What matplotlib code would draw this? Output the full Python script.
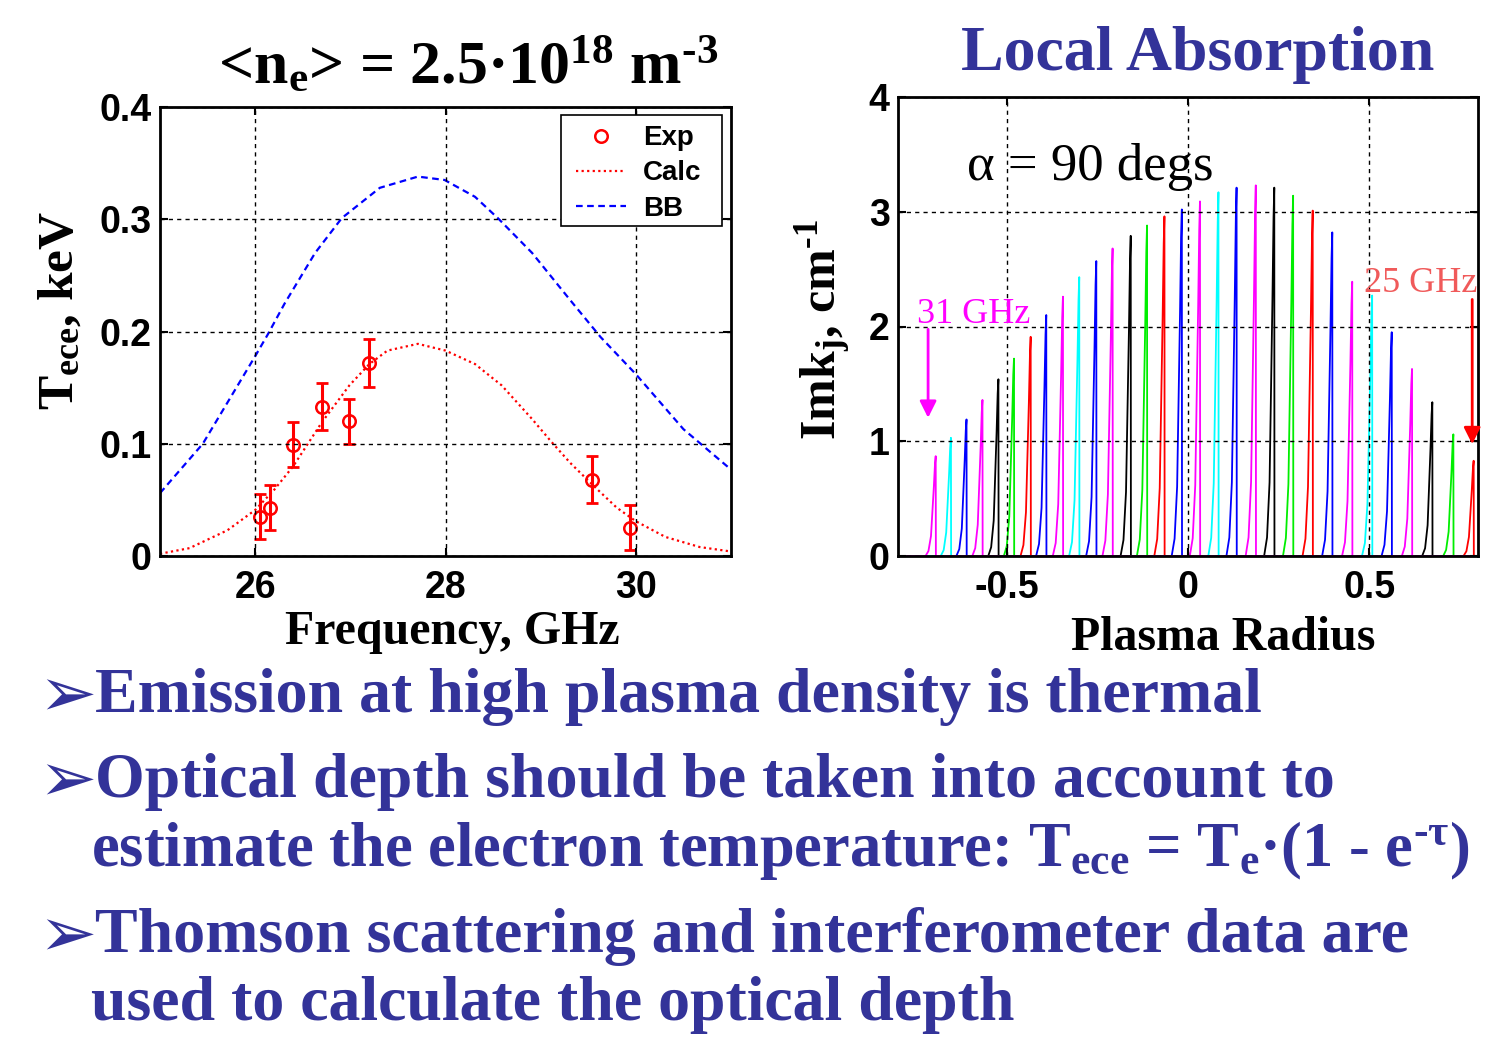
import numpy as np
import matplotlib.pyplot as plt
from matplotlib.patches import Rectangle

plt.rcParams['mathtext.fontset'] = 'custom'
plt.rcParams['mathtext.rm'] = 'Liberation Serif:bold'
plt.rcParams['mathtext.it'] = 'Liberation Serif:bold'
plt.rcParams['mathtext.bf'] = 'Liberation Serif:bold'

# ---- left panel: ECE temperature vs frequency ----
exp_freq = [26.05, 26.16, 26.40, 26.70, 26.99, 27.20, 29.54, 29.94]
exp_tece = [0.035, 0.043, 0.099, 0.133, 0.120, 0.172, 0.068, 0.025]
exp_err = [0.020, 0.020, 0.020, 0.021, 0.020, 0.021, 0.021, 0.020]

calc_freq = [25.0, 25.31, 25.71, 26.0, 26.2, 26.4, 26.7, 26.99, 27.2, 27.39, 27.71,
             28.0, 28.31, 28.59, 28.91, 29.11, 29.31, 29.55, 29.8, 30.0, 30.31, 30.67, 31.0]
calc_tece = [0.002, 0.007, 0.023, 0.041, 0.059, 0.080, 0.119, 0.152, 0.171, 0.183, 0.189,
             0.183, 0.171, 0.152, 0.122, 0.102, 0.083, 0.063, 0.043, 0.031, 0.017, 0.008, 0.004]

bb_freq = [25.0, 25.45, 26.0, 26.13, 26.31, 26.63, 26.91, 27.31, 27.71, 27.99, 28.31,
           28.55, 28.91, 29.31, 29.63, 30.0, 30.5, 31.0]
bb_tece = [0.056, 0.100, 0.178, 0.197, 0.225, 0.270, 0.301, 0.328, 0.338, 0.335, 0.320,
           0.301, 0.270, 0.228, 0.195, 0.162, 0.113, 0.077]

# ---- right panel: local absorption peaks ----
peak_pos = [-0.696, -0.654, -0.611, -0.567, -0.523, -0.480, -0.434, -0.391,
            -0.345, -0.300, -0.253, -0.208, -0.158, -0.113, -0.065, -0.017,
            0.033, 0.084, 0.134, 0.187, 0.238, 0.290, 0.344, 0.398,
            0.453, 0.508, 0.562, 0.618, 0.674, 0.732, 0.788]
peak_height = [0.87, 1.03, 1.19, 1.36, 1.54, 1.72, 1.91, 2.10,
               2.26, 2.43, 2.57, 2.68, 2.79, 2.88, 2.96, 3.02,
               3.09, 3.17, 3.21, 3.23, 3.21, 3.14, 3.01, 2.82,
               2.39, 2.27, 1.95, 1.63, 1.34, 1.06, 0.83]
peak_colors = ['magenta', 'cyan', 'blue', 'magenta', 'black', '#00ee00', 'red', 'blue'] * 4

# shape of one line (offset from peak, fraction of peak height)
shape_dx = [-0.028, -0.020, -0.013, -0.009, -0.005, -0.002, 0.0, 0.0005]
shape_frac = [0.0, 0.05, 0.2, 0.45, 0.7, 0.92, 1.0, 0.0]

text_blue = '#333399'
serif_b = dict(family='Liberation Serif', weight='bold')
tick_font = dict(family='Liberation Sans', weight='bold', size=27)
HY = '\u2010'  # hyphen used as the minus sign in the slide

fig = plt.figure(figsize=(14.93, 10.41), dpi=100)
W, H = 1493.0, 1041.0


def fx(px):
    return px / W


def fy(py):
    return 1 - py / H


def style_axes(ax):
    for s in ax.spines.values():
        s.set_linewidth(2)
    ax.tick_params(direction='in', length=6, width=1.5, top=True, right=True)
    ax.tick_params(axis='x', pad=10)
    ax.tick_params(axis='y', pad=6)
    for lab in ax.get_xticklabels() + ax.get_yticklabels():
        lab.set_fontfamily(tick_font['family'])
        lab.set_fontweight(tick_font['weight'])
        lab.set_fontsize(tick_font['size'])
    ax.grid(True, color='black', linestyle=(0, (3, 3)), linewidth=1)
    ax.set_axisbelow(False)


# left axes
ax1 = fig.add_axes([fx(160), fy(556), fx(731) - fx(160), fy(107) - fy(556)])
ax1.errorbar(exp_freq, exp_tece, yerr=exp_err, fmt='none', ecolor='red', elinewidth=2.2,
             capsize=4, capthick=2)
ax1.plot(exp_freq, exp_tece, 'o', mfc='none', mec='red', ms=9, mew=1.8, label='Exp')
ax1.plot(calc_freq, calc_tece, color='red', linestyle=(0, (1, 1.5)), lw=1.6, label='Calc')
ax1.plot(bb_freq, bb_tece, color='blue', linestyle=(0, (3, 2)), lw=1.6, label='BB')
ax1.set_xlim(25, 31)
ax1.set_ylim(0, 0.4)
ax1.set_xticks([26, 28, 30])
ax1.set_yticks([0, 0.1, 0.2, 0.3, 0.4])
ax1.set_yticklabels(['0', '0.1', '0.2', '0.3', '0.4'])
style_axes(ax1)

# legend box drawn by hand so the padding matches
ax1.add_patch(Rectangle((fx(561), fy(226)), fx(722) - fx(561), fy(115) - fy(226),
                        transform=fig.transFigure, facecolor='white', clip_on=False,
                        edgecolor='black', lw=1.2, zorder=5))
leg = ax1.legend(loc='upper left', bbox_to_anchor=(fx(568), fy(117)),
                 bbox_transform=fig.transFigure, borderaxespad=0,
                 prop=dict(family='Liberation Sans', weight='bold', size=20),
                 frameon=False, handlelength=1.8, borderpad=0.3,
                 labelspacing=0.33, handletextpad=0.6)
leg.set_zorder(6)
ax1.set_xlabel('Frequency, GHz', fontsize=34.5, **serif_b)
ax1.xaxis.set_label_coords((452 - 160) / 571.0, -0.12)
ax1.set_ylabel('T$_{\\rm ece}$, keV', fontsize=37, **serif_b)
ax1.yaxis.set_label_coords(-0.133, (556 - 310) / 449.0)

# right axes
ax2 = fig.add_axes([fx(898), fy(556), fx(1478) - fx(898), fy(97) - fy(556)])
for i in range(len(peak_pos) - 1, -1, -1):
    xs = [-0.8] + [peak_pos[i] + d for d in shape_dx] + [0.8]
    ys = [0.0] + [peak_height[i] * f for f in shape_frac] + [0.0]
    ax2.plot(xs, ys, color=peak_colors[i], lw=1.3)
ax2.set_xlim(-0.8, 0.8)
ax2.set_ylim(0, 4)
ax2.set_xticks([-0.5, 0, 0.5])
ax2.set_xticklabels(['-0.5', '0', '0.5'])
ax2.set_yticks([0, 1, 2, 3, 4])
style_axes(ax2)
ax2.set_xlabel('Plasma Radius', fontsize=34.5, **serif_b)
ax2.xaxis.set_label_coords((1223 - 898) / 580.0, -0.13)
ax2.set_ylabel('Imk$_{\\rm j}$, cm$^{' + HY + '1}$', fontsize=36, **serif_b)
ax2.yaxis.set_label_coords(-0.075, (556 - 330) / 459.0)

ax2.text(-0.61, 3.28, '\u03b1 = 90 degs', family='Liberation Serif', fontsize=38, va='baseline')
ax2.text(-0.748, 2.03, '31 GHz', family='Liberation Serif', fontsize=26, color='magenta',
         va='baseline')
ax2.text(0.485, 2.30, '25 GHz', family='Liberation Serif', fontsize=26, color='#f05a5a',
         va='baseline')
ax2.annotate('', xy=(-0.717, 1.18), xytext=(-0.717, 2.0),
             arrowprops=dict(arrowstyle='-|>', color='magenta', lw=2, mutation_scale=25))
ax2.annotate('', xy=(0.784, 0.95), xytext=(0.784, 2.26),
             arrowprops=dict(arrowstyle='-|>', color='red', lw=2, mutation_scale=25))

# titles
fig.text(fx(468), fy(84), '<n$_{\\rm e}$> = 2.5\u00b710$^{18}$ m$^{' + HY + '3}$', ha='center',
         va='baseline', fontsize=44.5, color='black', **serif_b)
fig.text(fx(1198), fy(70), 'Local Absorption', ha='center', va='baseline', fontsize=46,
         color=text_blue, **serif_b)

# bullet text
bullet = dict(family='DejaVu Sans', fontsize=50, color=text_blue, va='baseline')
body = dict(fontsize=46, color=text_blue, va='baseline', **serif_b)
for yb in [712, 797, 952]:
    fig.text(fx(38), fy(yb + 4), '\u27a2', **bullet)
fig.text(fx(95), fy(712), 'Emission at high plasma density is thermal', **body)
fig.text(fx(95), fy(797), 'Optical depth should be taken into account to', **body)
line3 = dict(body, fontsize=45)
fig.text(fx(91), fy(866),
         'estimate the electron temperature: T$_{\\rm ece}$ = T$_{\\rm e}$\u00b7(1 - e$^{'
         + HY + '\\tau}$)', **line3)
fig.text(fx(95), fy(952), 'Thomson scattering and interferometer data are', **body)
fig.text(fx(91), fy(1020), 'used to calculate the optical depth', **body)

fig.savefig('out.png', dpi=100)
